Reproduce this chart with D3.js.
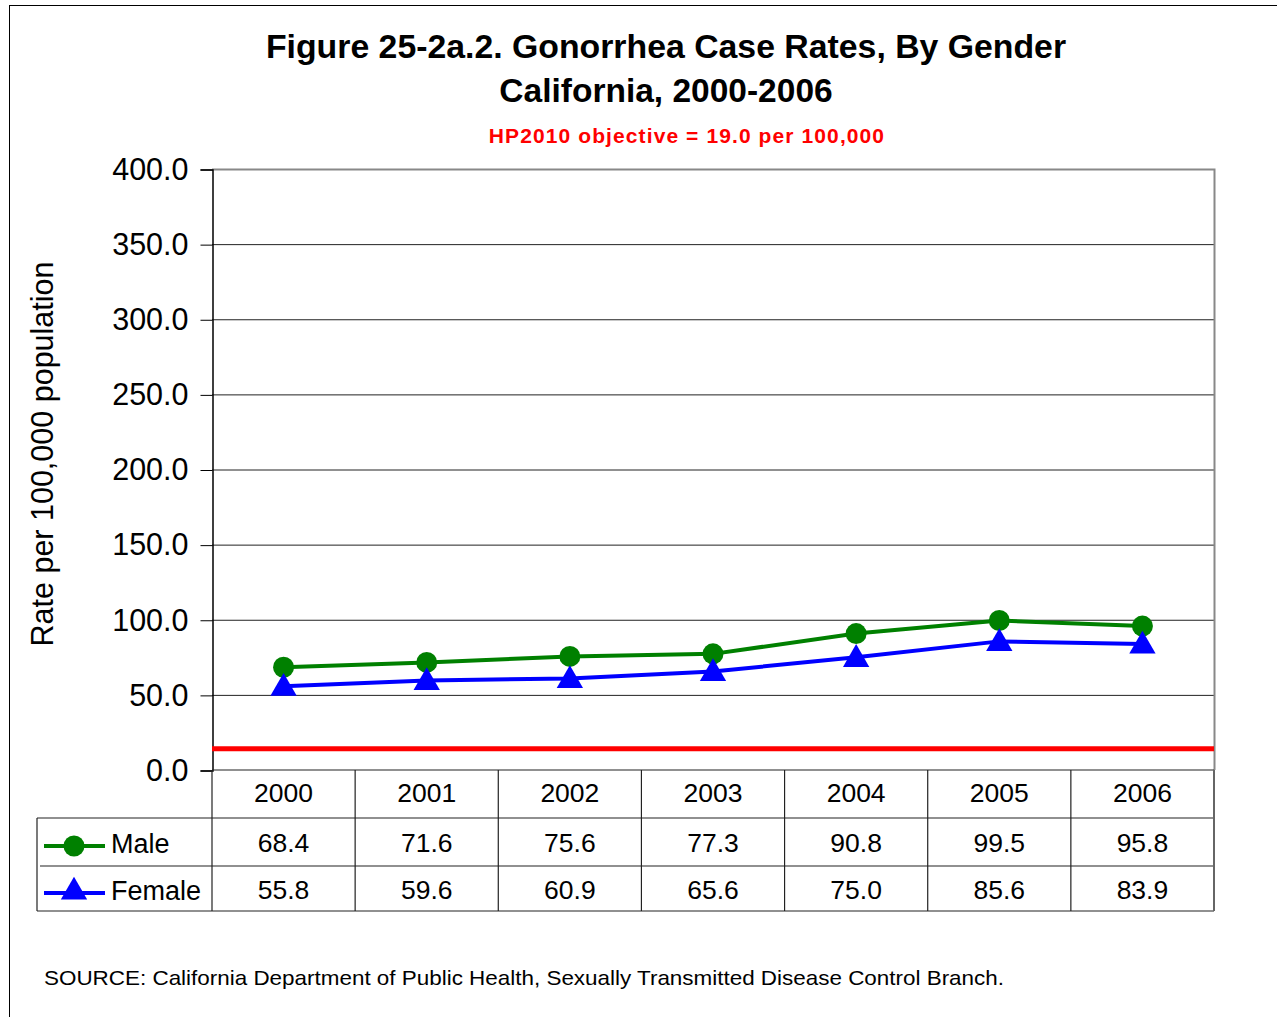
<!DOCTYPE html>
<html>
<head>
<meta charset="utf-8">
<script src="https://cdn.jsdelivr.net/npm/d3@7"></script>
<style>
  body { margin: 0; background: #fff; }
  svg { font-family: Arial, "Liberation Sans", sans-serif; }
</style>
</head>
<body>
<svg width="1277" height="1017"></svg>
<script>
// chart data
var years = ['2000', '2001', '2002', '2003', '2004', '2005', '2006'];
var maleRates = [68.4, 71.6, 75.6, 77.3, 90.8, 99.5, 95.8];
var femaleRates = [55.8, 59.6, 60.9, 65.6, 75.0, 85.6, 83.9];
var yTicks = [0, 50, 100, 150, 200, 250, 300, 350, 400];
var hpLevel = 14.2; // red objective line, where it sits in the picture

var series = [
  { name: 'Male', values: maleRates, color: '#008000', shape: 'circle' },
  { name: 'Female', values: femaleRates, color: '#0000ff', shape: 'triangle' }
];

var svg = d3.select('svg');

// outer frame
svg.append('rect')
  .attr('x', 9.5).attr('y', 5.5)
  .attr('width', 1300).attr('height', 1100)
  .attr('fill', 'none').attr('stroke', '#000').attr('stroke-width', 1);

// (plotTop, not top -- window.top is taken)
var plotLeft = 212, plotRight = 1214, plotTop = 169, plotBottom = 770;

var x = d3.scaleBand().domain(years).range([plotLeft, plotRight]);
var y = d3.scaleLinear().domain([0, 400]).range([plotBottom, plotTop]);

// gridlines
svg.append('g').selectAll('line')
  .data(yTicks.filter(function(d) { return d > 0 && d < 400; }))
  .enter().append('line')
  .attr('x1', plotLeft).attr('x2', plotRight)
  .attr('y1', function(d) { return y(d) + 0.5; })
  .attr('y2', function(d) { return y(d) + 0.5; })
  .attr('stroke', '#222').attr('stroke-width', 1);

// plot border top / right (gray)
svg.append('path')
  .attr('d', 'M' + plotLeft + ',' + (plotTop + 0.5) + 'H' + (plotRight + 0.5) + 'V' + plotBottom)
  .attr('fill', 'none').attr('stroke', '#888').attr('stroke-width', 2);

// y axis
var yAxis = d3.axisLeft(y)
  .tickValues(yTicks)
  .tickFormat(d3.format('.1f'))
  .tickSize(12)
  .tickPadding(12);

var yg = svg.append('g')
  .attr('transform', 'translate(' + (plotLeft + 0.5) + ',0.5)')
  .call(yAxis);
yg.select('.domain').attr('stroke', '#000').attr('stroke-width', 1.5);
yg.selectAll('.tick line').attr('stroke', '#000');
yg.selectAll('.tick text')
  .attr('font-size', 30.5).attr('fill', '#000')
  .attr('font-family', 'Arial, "Liberation Sans", sans-serif');

// y axis title
svg.append('text')
  .attr('transform', 'translate(53,454) rotate(-90)')
  .attr('text-anchor', 'middle')
  .attr('font-size', 30.5)
  .text('Rate per 100,000 population');

// objective line
svg.append('line')
  .attr('x1', plotLeft).attr('x2', plotRight)
  .attr('y1', y(hpLevel)).attr('y2', y(hpLevel))
  .attr('stroke', '#ff0000').attr('stroke-width', 5);

// lines + markers
var line = d3.line()
  .x(function(d, i) { return x(years[i]) + x.bandwidth() / 2; })
  .y(function(d) { return y(d); });

var triangle = d3.symbol().type(d3.symbolTriangle).size(300);

function drawMarker(g, s, cx, cy) {
  if (s.shape === 'circle') {
    g.append('circle').attr('cx', cx).attr('cy', cy).attr('r', 10.5).attr('fill', s.color);
  } else {
    g.append('path').attr('d', triangle)
      .attr('transform', 'translate(' + cx + ',' + (cy + 2) + ')')
      .attr('fill', s.color);
  }
}

series.forEach(function(s) {
  svg.append('path')
    .datum(s.values)
    .attr('d', line)
    .attr('fill', 'none')
    .attr('stroke', s.color)
    .attr('stroke-width', 4);
  var g = svg.append('g');
  s.values.forEach(function(v, i) {
    drawMarker(g, s, x(years[i]) + x.bandwidth() / 2, y(v));
  });
});

// data table
var rowTop = [770, 818, 866];
var rowBottom = 911;
var tableLeft = 37;
var tbl = svg.append('g').attr('stroke', '#222').attr('stroke-width', 1.2);

// horizontal lines
tbl.append('line').attr('x1', tableLeft).attr('x2', plotRight).attr('y1', rowTop[1]).attr('y2', rowTop[1]);
tbl.append('line').attr('x1', tableLeft + 3).attr('x2', plotRight).attr('y1', rowTop[2]).attr('y2', rowTop[2]);
tbl.append('line').attr('x1', tableLeft).attr('x2', plotRight).attr('y1', rowBottom).attr('y2', rowBottom);
tbl.append('line').attr('x1', plotLeft).attr('x2', plotRight).attr('y1', plotBottom).attr('y2', plotBottom);
// vertical lines
tbl.append('line').attr('x1', tableLeft).attr('x2', tableLeft).attr('y1', rowTop[1]).attr('y2', rowBottom);
tbl.selectAll('.vl')
  .data(years)
  .enter().append('line')
  .attr('x1', function(d) { return x(d); })
  .attr('x2', function(d) { return x(d); })
  .attr('y1', plotBottom).attr('y2', rowBottom);
tbl.append('line').attr('x1', plotRight).attr('x2', plotRight).attr('y1', plotBottom).attr('y2', rowBottom)
  .attr('stroke', '#666').attr('stroke-width', 2);

// year header
svg.append('g').selectAll('text')
  .data(years)
  .enter().append('text')
  .attr('x', function(d) { return x(d) + x.bandwidth() / 2; })
  .attr('y', 802)
  .attr('text-anchor', 'middle')
  .attr('font-size', 26.5)
  .text(function(d) { return d; });

// value rows + legend keys
var rowMid = [852, 899];
series.forEach(function(s, r) {
  svg.append('g').selectAll('text')
    .data(s.values)
    .enter().append('text')
    .attr('x', function(d, i) { return x(years[i]) + x.bandwidth() / 2; })
    .attr('y', rowMid[r])
    .attr('text-anchor', 'middle')
    .attr('font-size', 26.5)
    .text(function(d) { return d.toFixed(1); });

  var ky = rowMid[r] - 6;
  var kg = svg.append('g');
  kg.append('line').attr('x1', 44).attr('x2', 105).attr('y1', ky).attr('y2', ky)
    .attr('stroke', s.color).attr('stroke-width', 4);
  drawMarker(kg, s, 74, ky - (s.shape === 'circle' ? 0 : 3));
  svg.append('text')
    .attr('x', 111).attr('y', rowMid[r] + 1)
    .attr('font-size', 27)
    .text(s.name);
});

// titles
svg.append('text')
  .attr('x', 666).attr('y', 58)
  .attr('text-anchor', 'middle')
  .attr('font-size', 33.8).attr('font-weight', 'bold')
  .text('Figure 25-2a.2. Gonorrhea Case Rates, By Gender');
svg.append('text')
  .attr('x', 666).attr('y', 102)
  .attr('text-anchor', 'middle')
  .attr('font-size', 33.5).attr('font-weight', 'bold')
  .text('California, 2000-2006');
svg.append('text')
  .attr('x', 687).attr('y', 143)
  .attr('text-anchor', 'middle')
  .attr('font-size', 21).attr('font-weight', 'bold')
  .attr('letter-spacing', 1.1)
  .attr('fill', '#ff0000')
  .text('HP2010 objective = 19.0 per 100,000');

// source
svg.append('text')
  .attr('x', 44).attr('y', 985)
  .attr('font-size', 21)
  .attr('textLength', 960)
  .attr('lengthAdjust', 'spacingAndGlyphs')
  .text('SOURCE: California Department of Public Health, Sexually Transmitted Disease Control Branch.');
</script>
</body>
</html>
